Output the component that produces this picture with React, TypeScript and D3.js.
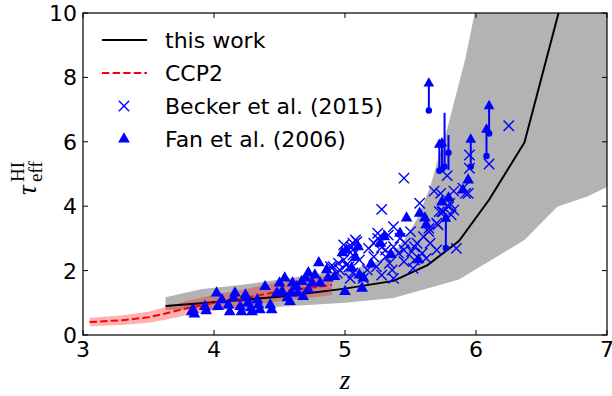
import React from 'react';
import * as d3 from 'd3';

const W = 612, H = 396;
const M = { left: 83, right: 5, top: 13, bottom: 61 };

const xTicks = [3, 4, 5, 6, 7];
const yTicks = [0, 2, 4, 6, 8, 10];

// "this work" median line
const workZ = [3.63, 4.0, 4.5, 5.0, 5.37, 5.63, 5.87, 6.1, 6.37, 6.63, 6.8];
const workTau = [0.9, 1.02, 1.19, 1.44, 1.68, 2.17, 2.92, 4.2, 5.98, 10.0, 12.5];

// "this work" band
const bandUpperZ = [3.63, 3.9, 4.2, 4.5, 4.8, 5.0, 5.2, 5.3, 5.4, 5.47, 5.55, 5.6, 5.65, 5.7, 5.78, 5.85, 5.92, 5.99, 6.5, 7.0];
const bandUpperTau = [1.17, 1.42, 1.55, 1.72, 1.9, 2.0, 2.2, 2.4, 2.7, 3.05, 3.6, 4.1, 4.6, 5.3, 6.4, 7.5, 8.6, 10.0, 18, 25];
const bandLowerZ = [3.63, 4.0, 4.5, 5.0, 5.37, 5.87, 6.37, 6.62, 6.85, 7.0];
const bandLowerTau = [0.78, 0.8, 0.88, 1.0, 1.15, 1.72, 2.95, 3.98, 4.3, 4.6];

// CCP2
const ccpZ = [3.05, 3.3, 3.5, 3.63, 3.8, 4.0, 4.2, 4.4, 4.6, 4.8, 4.9];
const ccpTau = [0.40, 0.46, 0.55, 0.67, 0.84, 1.0, 1.12, 1.28, 1.4, 1.5, 1.55];
const ccpErr = [0.13, 0.15, 0.17, 0.2, 0.22, 0.25, 0.27, 0.29, 0.3, 0.31, 0.31];

// Becker et al. (2015)
const beckerZ = [5.45, 6.25, 6.10, 5.95, 5.95, 5.78, 5.68, 5.83, 5.90, 5.94, 5.28, 5.57, 5.74, 5.80, 5.83, 5.71, 5.37, 5.08, 4.99, 5.25,
  5.33, 5.50, 5.60, 5.64, 5.55, 5.65, 5.18, 5.28, 5.37, 5.46, 5.22, 5.31, 5.41, 5.51, 5.59, 5.70, 5.85, 5.11, 5.01, 5.34,
  5.45, 5.53, 5.62, 5.24, 5.36, 5.17, 5.06, 5.28, 4.96, 5.22, 5.25, 4.95, 4.91, 4.99, 5.03, 5.04, 5.14, 5.37, 5.45, 5.53,
  5.70, 5.79, 5.81, 5.64, 5.42, 5.31, 5.52, 5.06, 5.06, 5.06, 4.94, 5.72, 5.75, 5.92, 4.89, 5.05, 5.09, 5.73];
const beckerTau = [4.87, 6.50, 5.31, 5.59, 5.18, 4.95, 4.47, 4.47, 4.56, 4.40, 3.90, 4.09, 3.83, 4.09, 3.88, 3.42, 3.36, 2.95, 2.80, 3.00,
  3.10, 3.21, 3.05, 3.31, 2.85, 2.85, 2.69, 2.72, 2.74, 2.85, 2.43, 2.43, 2.54, 2.59, 2.54, 2.64, 2.69, 2.33, 2.17, 2.23,
  2.28, 2.33, 2.38, 2.12, 2.02, 2.02, 1.92, 1.86, 2.02, 2.85, 3.16, 2.23, 2.12, 2.33, 2.12, 1.76, 1.76, 1.76, 2.64, 2.74,
  3.47, 3.98, 3.73, 3.21, 3.00, 2.64, 2.07, 2.48, 2.64, 2.85, 1.92, 3.83, 3.83, 4.40, 2.12, 2.74, 2.90, 4.40];

// Fan et al. (2006)
const fanZ = [3.84, 3.85, 3.93, 3.94, 4.02, 4.03, 4.06, 4.11, 4.12, 4.15, 4.16, 4.20, 4.21, 4.24, 4.25, 4.26, 4.28, 4.29, 4.33, 4.34,
  4.35, 4.39, 4.43, 4.44, 4.48, 4.50, 4.52, 4.54, 4.56, 4.58, 4.59, 4.60, 4.63, 4.64, 4.67, 4.68, 4.70, 4.72, 4.72, 4.75,
  4.77, 4.80, 4.81, 4.86, 4.87, 4.92, 4.98, 5.00, 5.10, 5.13, 5.47, 5.42, 5.30, 5.27, 5.57, 5.61, 5.62, 5.56, 5.74, 5.94,
  5.90, 5.05, 5.14, 5.79, 3.83, 5.01, 5.08, 5.20, 5.35, 5.11];
const fanTau = [0.78, 0.65, 0.88, 0.75, 1.30, 0.88, 1.09, 0.93, 0.72, 1.15, 1.30, 0.88, 0.72, 1.24, 1.15, 0.99, 0.84, 0.72, 1.09, 0.93,
  0.78, 1.50, 0.93, 0.78, 1.30, 1.61, 1.35, 1.77, 1.15, 1.04, 1.30, 1.61, 1.50, 1.30, 1.66, 1.19, 1.77, 1.93, 1.40, 1.61,
  1.86, 2.24, 1.61, 2.02, 1.77, 1.81, 2.55, 1.35, 2.74, 1.45, 3.63, 3.16, 3.05, 2.85, 3.78, 3.63, 3.42, 2.33, 4.13, 4.81,
  4.50, 2.08, 1.77, 4.25, 0.72, 2.64, 2.40, 2.20, 2.50, 1.86];

// lower limits (circle + arrow)
const limZ = [5.64, 5.72, 5.74, 5.96, 6.08, 6.10, 5.77];
const limTau = [6.97, 5.10, 5.15, 5.23, 5.56, 6.26, 2.70];
const limTop = [7.95, 6.05, 6.10, 6.21, 6.52, 7.25, 3.75];
// error bars (circle + line)
const errZ = [5.76, 5.79];
const errTau = [5.23, 5.66];
const errLo = [5.2, 5.12];
const errHi = [6.9, 6.21];

const legendLabels = ['this work', 'CCP2', 'Becker et al. (2015)', 'Fan et al. (2006)'];

const BLUE = '#0000ff';
const FONT = 'DejaVu Sans, sans-serif';

export default function App() {
  const x = d3.scaleLinear().domain([3, 7]).range([M.left, W - M.right]);
  const y = d3.scaleLinear().domain([0, 10]).range([H - M.bottom, M.top]);
  const x0 = M.left, x1 = W - M.right, y0 = H - M.bottom, y1 = M.top;

  const line = d3.line<[number, number]>().x(d => x(d[0])).y(d => y(d[1]));
  const upper = bandUpperZ.map((z, i) => [z, bandUpperTau[i]] as [number, number]);
  const lower = bandLowerZ.map((z, i) => [z, bandLowerTau[i]] as [number, number]);
  const bandPath = line(upper.concat(lower.slice().reverse())) + 'Z';
  const workPath = line(workZ.map((z, i) => [z, workTau[i]] as [number, number]));

  const ccpArea = d3.area<number>()
    .x((_, i) => x(ccpZ[i]))
    .y0((_, i) => y(ccpTau[i] - ccpErr[i]))
    .y1((_, i) => y(ccpTau[i] + ccpErr[i]));
  const ccpPath = line(ccpZ.map((z, i) => [z, ccpTau[i]] as [number, number]));

  const timesType = (d3 as any).symbolTimes || (d3 as any).symbolX || d3.symbolCross;
  const crossPath = d3.symbol().type(timesType).size(72)() as string;
  const triPath = d3.symbol().type(d3.symbolTriangle).size(60)() as string;
  const arrowPath = d3.symbol().type(d3.symbolTriangle).size(50)() as string;

  const legY = [40, 73, 106, 139];

  return (
    <svg width={W} height={H} style={{ position: 'fixed', left: 0, top: 0, background: '#fff' }} fontFamily={FONT}>
      <defs>
        <clipPath id="plot">
          <rect x={x0} y={y1} width={x1 - x0} height={y0 - y1} />
        </clipPath>
      </defs>
      <rect x={0} y={0} width={W} height={H} fill="#fff" />
      <g clipPath="url(#plot)">
        <path d={bandPath} fill="#b3b3b3" stroke="none" />
        <path d={ccpArea(ccpZ) as string} fill="#ff0000" fillOpacity={0.3} stroke="none" />
        <path d={workPath as string} fill="none" stroke="#000" strokeWidth={2} />
        <path d={ccpPath as string} fill="none" stroke="#ff0000" strokeWidth={2} strokeDasharray="7.4,3.2" />
        {beckerZ.map((z, i) => (
          <path key={'b' + i} d={crossPath} transform={`translate(${x(z)},${y(beckerTau[i])})`} fill="none" stroke={BLUE} strokeWidth={1.4} />
        ))}
        {fanZ.map((z, i) => (
          <path key={'f' + i} d={triPath} transform={`translate(${x(z)},${y(fanTau[i])})`} fill={BLUE} stroke="none" />
        ))}
        {errZ.map((z, i) => (
          <g key={'e' + i}>
            <line x1={x(z)} x2={x(z)} y1={y(errLo[i])} y2={y(errHi[i])} stroke={BLUE} strokeWidth={2} />
            <circle cx={x(z)} cy={y(errTau[i])} r={3.2} fill={BLUE} />
          </g>
        ))}
        {limZ.map((z, i) => (
          <g key={'l' + i}>
            <line x1={x(z)} x2={x(z)} y1={y(limTau[i])} y2={y(limTop[i])} stroke={BLUE} strokeWidth={2} />
            <circle cx={x(z)} cy={y(limTau[i])} r={3.2} fill={BLUE} />
            <path d={arrowPath} transform={`translate(${x(z)},${y(limTop[i]) + 4.5})`} fill={BLUE} />
          </g>
        ))}
      </g>
      {/* frame */}
      <rect x={x0} y={y1} width={x1 - x0} height={y0 - y1} fill="none" stroke="#000" strokeWidth={1.2} />
      {xTicks.map(t => (
        <g key={'xt' + t}>
          <line x1={x(t)} x2={x(t)} y1={y0} y2={y0 - 5} stroke="#000" strokeWidth={1} />
          <line x1={x(t)} x2={x(t)} y1={y1} y2={y1 + 5} stroke="#000" strokeWidth={1} />
          <text x={x(t)} y={y0 + 22} textAnchor="middle" fontSize={22} fill="#000">{t}</text>
        </g>
      ))}
      {yTicks.map(t => (
        <g key={'yt' + t}>
          <line x1={x0} x2={x0 + 5} y1={y(t)} y2={y(t)} stroke="#000" strokeWidth={1} />
          <line x1={x1} x2={x1 - 5} y1={y(t)} y2={y(t)} stroke="#000" strokeWidth={1} />
          <text x={x0 - 6} y={y(t) + 8} textAnchor="end" fontSize={22} fill="#000">{t}</text>
        </g>
      ))}
      {/* axis labels */}
      <text x={(x0 + x1) / 2} y={389} textAnchor="middle" fontSize={27} fontStyle="italic" fontFamily="Liberation Serif, serif" fill="#000">z</text>
      <g transform="translate(36,195) rotate(-90)" fontFamily="Liberation Serif, serif" fill="#000">
        <text x={0} y={0} fontSize={27} fontStyle="italic">τ</text>
        <text x={13} y={6} fontSize={19}>eff</text>
        <text x={13} y={-12} fontSize={19}>HI</text>
      </g>
      {/* legend */}
      <line x1={102} x2={147} y1={legY[0]} y2={legY[0]} stroke="#000" strokeWidth={2} />
      <line x1={102} x2={147} y1={legY[1]} y2={legY[1]} stroke="#ff0000" strokeWidth={2} strokeDasharray="7.4,3.2" />
      <path d={crossPath} transform={`translate(124,${legY[2]})`} fill="none" stroke={BLUE} strokeWidth={1.4} />
      <path d={triPath} transform={`translate(124,${legY[3]})`} fill={BLUE} />
      {legendLabels.map((l, i) => (
        <text key={l} x={165} y={legY[i] + 8} fontSize={22} fill="#000">{l}</text>
      ))}
    </svg>
  );
}
